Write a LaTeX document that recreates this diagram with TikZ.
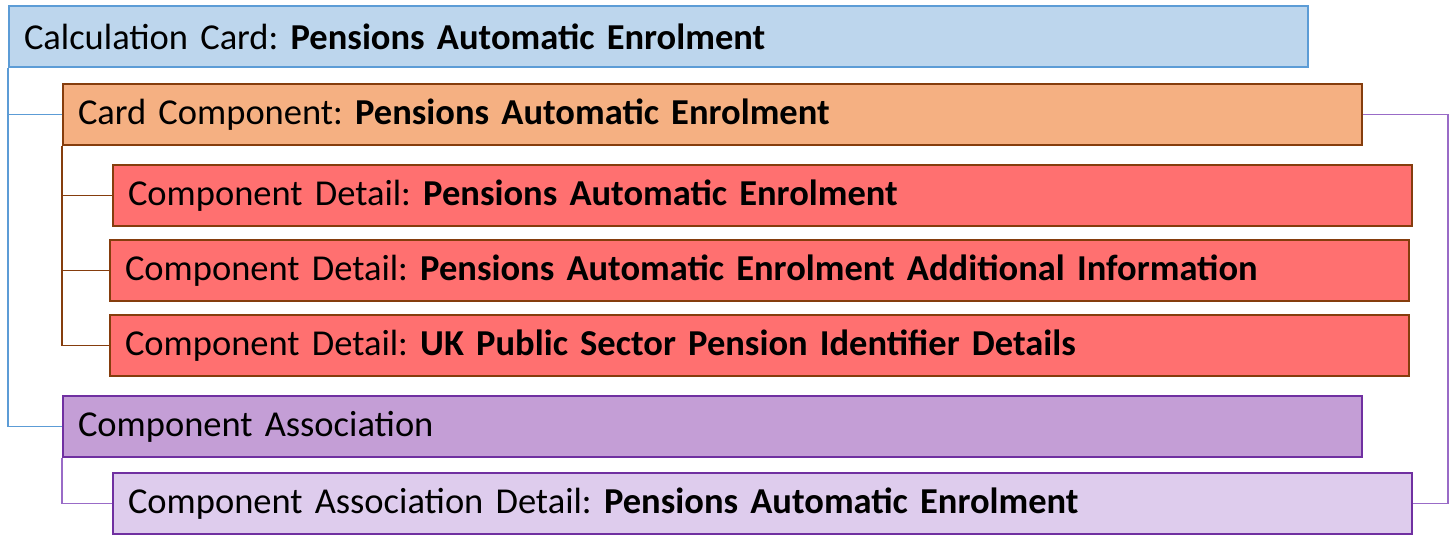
\documentclass[tikz,border=0pt]{standalone}
\usepackage{fontspec}
\setmainfont{Carlito}
\frenchspacing
\definecolor{bdd7ee}{rgb}{0.74,0.84,0.93}
\definecolor{sbbdd5}{rgb}{0.36,0.61,0.84}
\definecolor{f4b183}{rgb}{0.96,0.69,0.51}
\definecolor{bbsc0c}{rgb}{0.52,0.24,0.05}
\definecolor{ff7171}{rgb}{1,0.44,0.44}
\definecolor{c39ed7}{rgb}{0.77,0.62,0.84}
\definecolor{dfccec}{rgb}{0.87,0.8,0.93}
\definecolor{tzzqaa}{rgb}{0.44,0.19,0.63}
\definecolor{qqbbcc}{rgb}{0.6,0.42,0.78}

\tikzset{
    box/.style={draw, line width=2pt, anchor=north west, minimum height=61pt,
        text width=1269pt, inner xsep=15pt, align=left, font=\fontsize{36.5}{40}\selectfont},
    link/.style={line width=1.2pt}
}

\begin{document}
\begin{tikzpicture}[x=1pt, y=-1pt]
    \useasboundingbox (0,0) rectangle (1450,548);
    \node[box, color=sbbdd5, fill=bdd7ee, text=black] (calc) at (8,5) {Calculation Card: \textbf{Pensions Automatic Enrolment}};
    \node[box, color=bbsc0c, fill=f4b183, text=black] (comp) at (62,83) {Card Component: \textbf{Pensions Automatic Enrolment}};
    \node[box, color=bbsc0c, fill=ff7171, text=black] (det1) at (112,164) {Component Detail: \textbf{Pensions Automatic Enrolment}};
    \node[box, color=bbsc0c, fill=ff7171, text=black] (det2) at (109,239) {Component Detail: \textbf{Pensions Automatic Enrolment Additional Information}};
    \node[box, color=bbsc0c, fill=ff7171, text=black] (det3) at (109,314) {Component Detail: \textbf{UK Public Sector Pension Identifier Details}};
    \node[box, color=tzzqaa, fill=c39ed7, text=black] (assoc) at (62,395) {Component Association};
    \node[box, color=tzzqaa, fill=dfccec, text=black] (adet) at (112,472) {Component Association Detail: \textbf{Pensions Automatic Enrolment}};
    % card to its children
    \draw [link, color=sbbdd5] (calc.south west) |- (assoc.west);
    \draw [link, color=sbbdd5] (calc.south west |- comp.west) -- (comp.west);
    % component details
    \draw [link, color=bbsc0c] (comp.south west) |- (det3.west);
    \draw [link, color=bbsc0c] (comp.south west |- det1.west) -- (det1.west);
    \draw [link, color=bbsc0c] (comp.south west |- det2.west) -- (det2.west);
    % association
    \draw [link, color=qqbbcc] (assoc.south west) |- (adet.west);
    \coordinate (edge) at (1448,0);
    \draw [link, color=qqbbcc] (comp.east) -- (comp.east -| edge) -- (adet.east -| edge) -- (adet.east);
\end{tikzpicture}
\end{document}
